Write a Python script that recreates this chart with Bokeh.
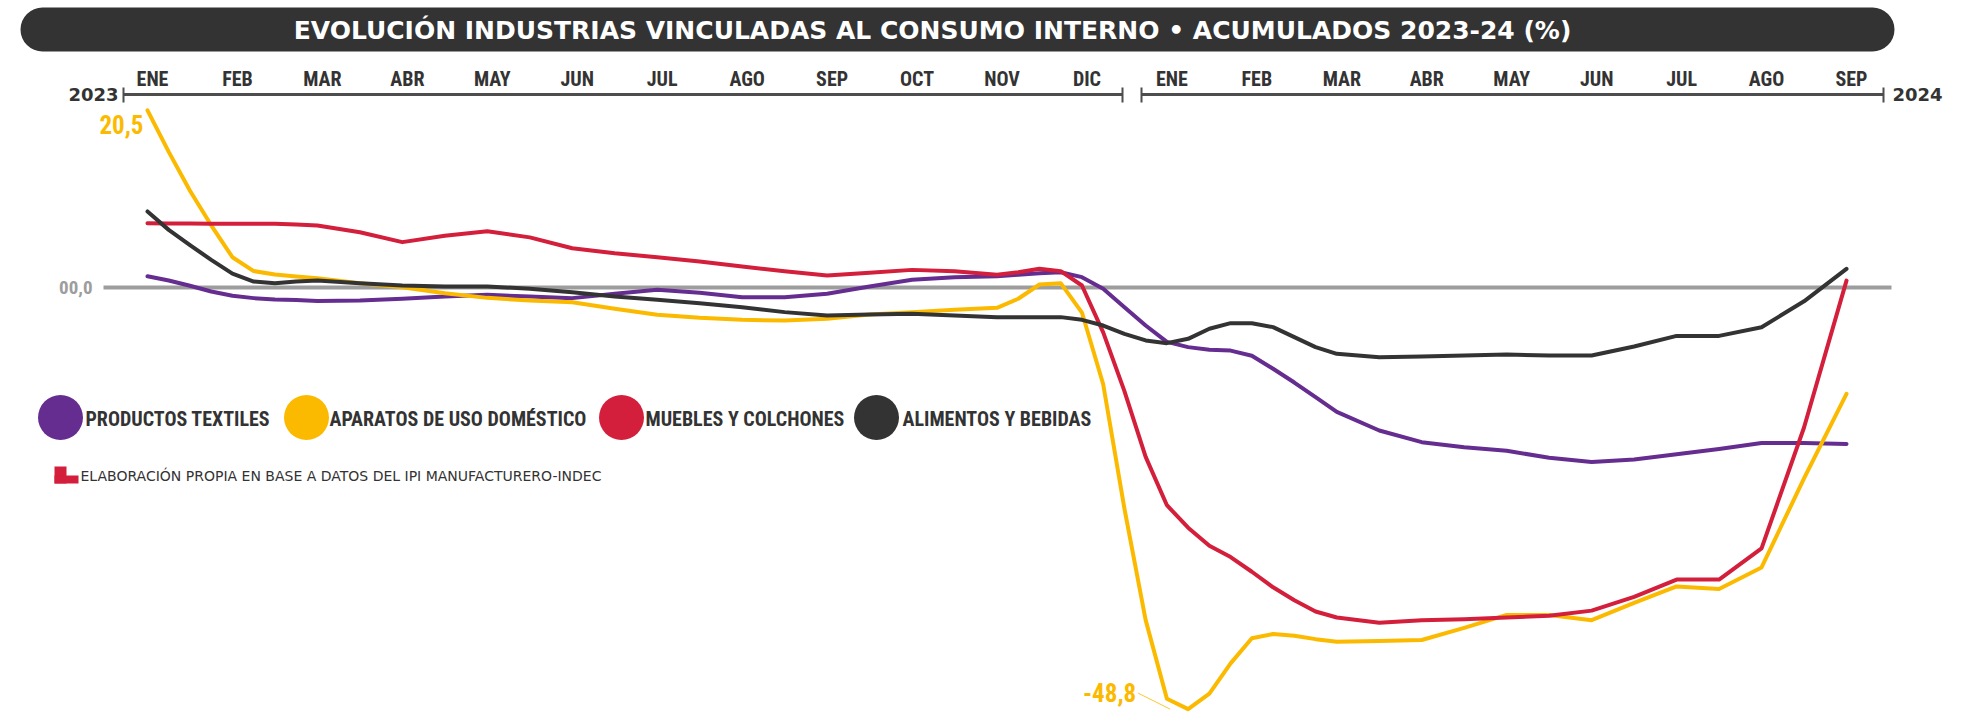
from bokeh.plotting import figure
from bokeh.models import Range1d, BoxAnnotation
from bokeh.core.properties import value
from bokeh.embed import file_html
from bokeh.resources import INLINE

# ---------------- data ----------------
# position in months, 0 = ENE 2023 ... 20 = SEP 2024
t = [0, 0.25, 0.5, 0.75, 1, 1.25, 1.5, 1.75, 2, 2.5, 3, 3.5, 4, 4.5, 5, 5.5, 6, 6.5, 7, 7.5, 8, 8.5, 9, 9.5, 10,
     10.25, 10.5, 10.75, 11, 11.25, 11.5, 11.75, 12, 12.25, 12.5, 12.75, 13, 13.25, 13.5, 13.75, 14,
     14.5, 15, 15.5, 16, 16.5, 17, 17.5, 18, 18.5, 19, 19.5, 20]

textiles = [1.31, 0.81, 0.2, -0.46, -0.95, -1.23, -1.38, -1.45, -1.55, -1.5, -1.31, -1.04, -0.85, -1.04,
            -1.23, -0.73, -0.27, -0.6, -1.12, -1.12, -0.73, 0.12, 0.89, 1.2, 1.31,
            1.47, 1.66, 1.77, 1.2, -0.15, -2.28, -4.4, -6.3, -6.9, -7.2, -7.3, -7.9, -9.4, -11.0, -12.7, -14.4,
            -16.55, -17.9, -18.5, -18.9, -19.7, -20.2, -19.9, -19.3, -18.7, -18.0, -18.0, -18.1]

aparatos = [20.5, 15.7, 11.2, 7.2, 3.5, 1.9, 1.5, 1.27, 1.08, 0.5, 0.04, -0.66, -1.2, -1.5,
            -1.7, -2.47, -3.16, -3.51, -3.74, -3.82, -3.63, -3.13, -2.85, -2.58, -2.35,
            -1.3, 0.35, 0.5, -2.9, -11.2, -25.6, -38.5, -47.6, -48.8, -47.0, -43.5, -40.6, -40.1, -40.3, -40.7, -41.0,
            -40.9, -40.8, -39.4, -37.9, -37.9, -38.5, -36.5, -34.6, -34.9, -32.4, -22.1, -12.3]

muebles = [7.45, 7.42, 7.4, 7.38, 7.37, 7.37, 7.37, 7.3, 7.18, 6.4, 5.25, 6.0, 6.5, 5.8,
           4.55, 3.97, 3.5, 3.0, 2.43, 1.89, 1.39, 1.7, 2.04, 1.89, 1.47,
           1.77, 2.16, 1.89, 0.23, -5.2, -12.0, -19.6, -25.2, -27.8, -29.9, -31.2, -32.9, -34.7, -36.2, -37.5, -38.2,
           -38.8, -38.5, -38.4, -38.2, -38.0, -37.4, -35.8, -33.8, -33.8, -30.2, -16.2, 0.8]

alimentos = [8.8, 6.67, 4.9, 3.2, 1.6, 0.69, 0.5, 0.7, 0.81, 0.5, 0.23, 0.12, 0.12, -0.15,
             -0.54, -1.04, -1.43, -1.81, -2.28, -2.85, -3.24, -3.13, -3.05, -3.24, -3.43,
             -3.43, -3.43, -3.43, -3.74, -4.4, -5.36, -6.13, -6.44, -5.94, -4.78, -4.13, -4.13, -4.59, -5.75, -6.9, -7.68,
             -8.06, -7.99, -7.87, -7.75, -7.87, -7.87, -6.83, -5.6, -5.6, -4.6, -1.6, 2.16]

months = ["ENE", "FEB", "MAR", "ABR", "MAY", "JUN", "JUL", "AGO", "SEP", "OCT", "NOV", "DIC"]
month_labels = months + months[:9]
month_pos = list(range(len(month_labels)))
years = ["2023", "2024"]
y_ticks = [0]
y_tick_labels = ["00,0"]

series_names = ["PRODUCTOS TEXTILES", "APARATOS DE USO DOMÉSTICO", "MUEBLES Y COLCHONES", "ALIMENTOS Y BEBIDAS"]
series_values = [textiles, aparatos, muebles, alimentos]
colors = ["#662d91", "#fbba00", "#d31f3b", "#333333"]

title_text = "EVOLUCIÓN INDUSTRIAS VINCULADAS AL CONSUMO INTERNO • ACUMULADOS 2023-24 (%)"
source_text = "ELABORACIÓN PROPIA EN BASE A DATOS DEL IPI MANUFACTURERO-INDEC"

# ---------------- layout helpers (page pixels -> data) ----------------
W, H = 1961, 718
ORIGIN = 0                     # page pixel of the figure's top-left corner
X0_PAGE, PX_M = 147.0, 84.95   # page x of month 0, px per month
Y0_PAGE, PX_U = 287.0, 8.64    # page y of value 0, px per unit


def X(px):
    return (px - X0_PAGE) / PX_M


def Y(py):
    return (Y0_PAGE - py) / PX_U


NARROW = value("Roboto Condensed, Noto Sans Condensed, DejaVu Sans Condensed, Liberation Sans, sans-serif")
DARK = "#333333"

p = figure(width=W, height=H, output_backend="svg", toolbar_location=None,
           x_range=Range1d(X(ORIGIN), X(ORIGIN + W)), y_range=Range1d(Y(ORIGIN + H), Y(ORIGIN)),
           x_axis_location=None, y_axis_location=None, min_border=0,
           outline_line_color=None, background_fill_color="white", border_fill_color="white")
p.xgrid.visible = False
p.ygrid.visible = False

# title bar
p.add_layout(BoxAnnotation(left=X(20), right=X(1894), top=Y(7), bottom=Y(51), level="underlay",
                           fill_color="#333333", fill_alpha=1.0, line_color=None, border_radius=22))
p.text(x=[X(932)], y=[Y(30)], text=[title_text], text_align="center", text_baseline="middle",
       text_color="white", text_font=value("DejaVu Sans"), text_font_style="bold", text_font_size="25px")

# month axis (two segments with end caps)
ax_y = Y(94)
seg_x0 = [X(123), X(1141)]
seg_x1 = [X(1122), X(1883)]
p.segment(x0=seg_x0, y0=[ax_y] * 2, x1=seg_x1, y1=[ax_y] * 2, line_color="#4d4d4d", line_width=3)
caps = seg_x0 + seg_x1
p.segment(x0=caps, y0=[Y(87)] * 4, x1=caps, y1=[Y(102)] * 4, line_color="#4d4d4d", line_width=2)
p.text(x=month_pos, y=[Y(78)] * len(month_pos), text=month_labels, text_align="center",
       text_baseline="middle", x_offset=5, text_color=DARK, text_font=NARROW,
       text_font_style="bold", text_font_size="20px")
p.text(x=[X(118)], y=[ax_y], text=[years[0]], text_align="right", text_baseline="middle",
       text_color=DARK, text_font=value("DejaVu Sans"), text_font_style="bold", text_font_size="18px")
p.text(x=[X(1892)], y=[ax_y], text=[years[1]], text_align="left", text_baseline="middle",
       text_color=DARK, text_font=value("DejaVu Sans"), text_font_style="bold", text_font_size="18px")

# zero line and its label
p.segment(x0=[X(103)], y0=y_ticks, x1=[X(1891)], y1=y_ticks, line_color="#9d9d9d", line_width=4)
p.text(x=[X(92)], y=y_ticks, text=y_tick_labels, text_align="right", text_baseline="middle",
       text_color="#9d9d9d", text_font=NARROW, text_font_style="bold", text_font_size="19px")

# series
for vals, c in zip(series_values, colors):
    p.line(t, vals, line_color=c, line_width=4, line_cap="round", line_join="round")

# value labels: first yellow point and yellow minimum


def fmt(v):
    return f"{v:.1f}".replace(".", ",")


p.text(x=[t[0]], y=[aparatos[0]], text=[fmt(aparatos[0])], text_align="right", text_baseline="middle",
       x_offset=-4, y_offset=14, text_color=colors[1], text_font=NARROW, text_font_style="bold",
       text_font_size="25px")
i_min = aparatos.index(min(aparatos))
tm, vm = t[i_min], aparatos[i_min]
p.text(x=[tm], y=[vm], text=[fmt(vm)], text_align="right", text_baseline="middle",
       x_offset=-52, y_offset=-17, text_color=colors[1], text_font=NARROW, text_font_style="bold",
       text_font_size="25px")
p.segment(x0=[tm - 50 / PX_M], y0=[vm + 16 / PX_U], x1=[tm - 18 / PX_M], y1=[vm],
          line_color=colors[1], line_width=0.8)

# legend
leg_cx = [X(60), X(306), X(621), X(876)]
p.scatter(x=leg_cx, y=[Y(417)] * 4, size=45, marker="circle", fill_color=colors, line_color=None)
p.text(x=[X(85), X(329), X(645), X(902)], y=[Y(418)] * 4, text=series_names, text_align="left",
       text_baseline="middle", text_color=DARK, text_font=NARROW, text_font_style="bold",
       text_font_size="20px")

# source note with red mark
p.quad(left=[X(54), X(54)], right=[X(66), X(78)], top=[Y(466), Y(475)], bottom=[Y(483), Y(483)],
       fill_color="#d31f3b", line_color=None)
p.text(x=[X(80)], y=[Y(475)], text=[source_text], text_align="left", text_baseline="middle",
       text_color=DARK, text_font=value("DejaVu Sans"), text_font_size="14px")

open("out.html", "w").write(file_html(p, INLINE, title="Evolución industrias"))
